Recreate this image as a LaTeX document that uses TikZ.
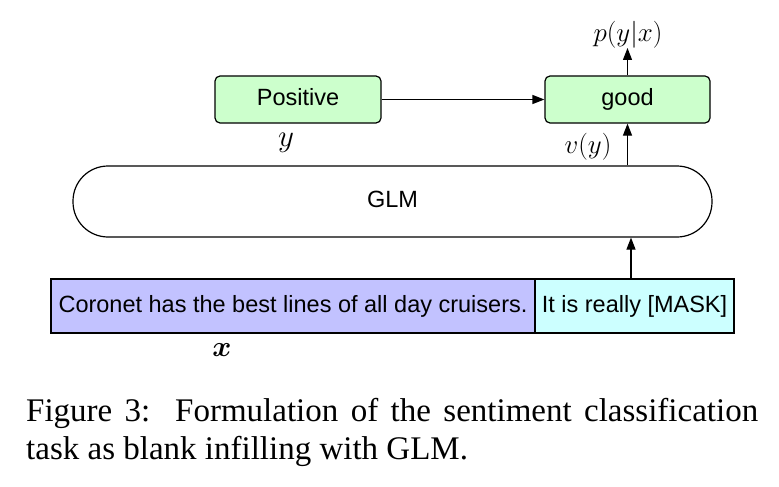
\RequirePackage{fix-cm}
\documentclass[tikz,border=0pt]{standalone}
\usepackage{amsmath,bm}
\usepackage{fontspec}
\setsansfont{Liberation Sans}
\newfontfamily\capfont{Liberation Serif}
\usetikzlibrary{arrows.meta}
\definecolor{boxgreen}{RGB}{204,255,204}
\definecolor{boxlav}{RGB}{194,194,255}
\definecolor{boxcyan}{RGB}{204,255,255}
\tikzset{
  sanstext/.style={font=\sffamily\fontsize{23.5}{27}\selectfont, text height=16.8pt, text depth=4.8pt},
  mathlbl/.style={font=\fontsize{27}{31}\selectfont, inner sep=0pt},
  greenbox/.style={draw, line width=1.2pt, fill=boxgreen, rounded corners=5pt,
    minimum height=47pt, inner sep=0pt, sanstext},
  inbox/.style={draw, line width=1.2pt, minimum height=54pt, inner sep=0pt, sanstext},
  conn/.style={line width=1.2pt, -{Triangle[length=12pt,width=9pt]}},
}
\begin{document}
\begin{tikzpicture}[x=1pt,y=-1pt]
\useasboundingbox (0,0) rectangle (779,487);
\node[greenbox, minimum width=166pt] (pos) at (298,99.5) {Positive};
\node[greenbox, minimum width=165pt] (good) at (627.5,99.5) {good};
\node[draw, line width=1.2pt, rounded corners=35pt, minimum width=639pt,
      minimum height=71pt, inner sep=0pt, sanstext] (glm) at (392.5,201.5) {GLM};
\node[inbox, fill=boxlav, minimum width=484pt] (in1) at (293,306)
  {Coronet has the best lines of all day cruisers.};
\node[inbox, fill=boxcyan, minimum width=199pt] (in2) at (634.5,306) {It is really [MASK]};
\node[mathlbl] (pyx) at (628,35) {$p(y|x)$};
\node[mathlbl, font=\fontsize{31}{35}\selectfont, anchor=base] (ylbl) at (286,146) {$y$};
\node[mathlbl] (vy) at (588,147) {$v(y)$};
\node[mathlbl, font=\fontsize{29}{33}\selectfont, anchor=base] (xlbl) at (222,356) {$\bm{x}$};
\coordinate (ptip) at (627.5,48);
\coordinate (inarr) at ([xshift=-3.5pt]in2.north);
\draw[conn] (pos.east) -- (good.west);
\draw[conn] (good.north) -- (ptip);
\draw[conn] (good.south |- glm.north) -- (good.south);
\draw[conn] (inarr) -- (inarr |- glm.south);
\node[anchor=base west, inner sep=0pt, text width=732pt, align=justify,
      font=\capfont\fontsize{33}{38}\selectfont] (cap) at (26,421)
  {Figure 3:\ \ Formulation of the sentiment classification\linebreak task as blank infilling with GLM.};
\end{tikzpicture}
\end{document}
